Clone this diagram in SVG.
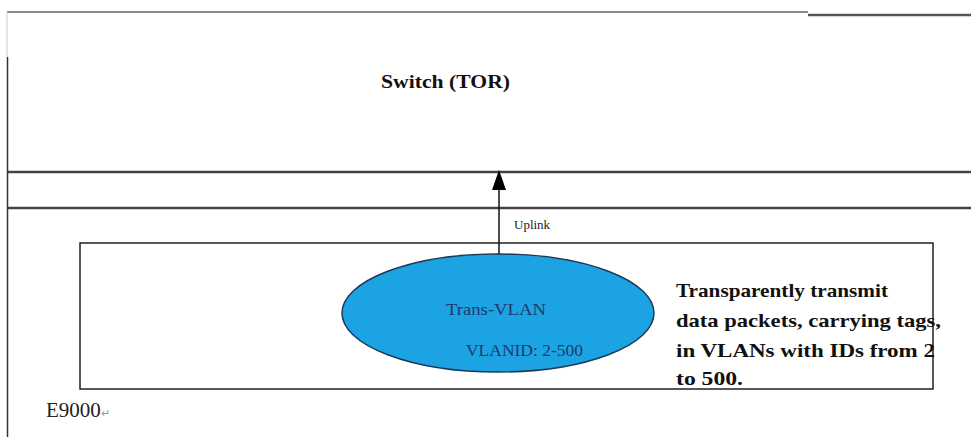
<svg xmlns="http://www.w3.org/2000/svg" width="971" height="437" viewBox="0 0 971 437">
<style>
.frame{fill:none;stroke:#222;stroke-width:1.5}
.thick{fill:none;stroke:#444;stroke-width:2.5}
text{font-family:'Liberation Serif',serif}
.note{font-weight:bold;font-size:19px;fill:#111}
</style>
<defs>
<marker id="arrow" viewBox="0 0 20 14" refX="19" refY="7" markerWidth="20" markerHeight="14" markerUnits="userSpaceOnUse" orient="auto">
<path d="M0,0 L20,7 L0,14 z" fill="#000"/>
</marker>
</defs>
<rect width="971" height="437" fill="#fff"/>
<g id="switch-tor">
<line x1="7" y1="12" x2="808" y2="12" stroke="#111" stroke-width="1.2"/>
<line x1="808" y1="15" x2="971" y2="15" stroke="#555" stroke-width="2.5"/>
<line x1="7" y1="12" x2="7" y2="57" stroke="#ccc" stroke-width="1"/>
<line x1="7.5" y1="57" x2="7.5" y2="172" stroke="#333" stroke-width="1.5"/>
<line x1="7" y1="172" x2="971" y2="172" class="thick"/>
<text x="381" y="88" font-family="'Liberation Serif', serif" font-size="18" font-weight="bold" fill="#111" textLength="129" lengthAdjust="spacingAndGlyphs">Switch (TOR)</text>
</g>
<g id="e9000">
<line x1="7.5" y1="172" x2="7.5" y2="437" stroke="#333" stroke-width="1.5"/>
<line x1="7" y1="208" x2="971" y2="208" class="thick"/>
<text x="46" y="417" font-family="'Liberation Serif', serif" font-size="21" fill="#222">E9000<tspan font-size="11" fill="#999">↵</tspan></text>
</g>
<g id="inner-box">
<rect x="80" y="243" width="853" height="146" class="frame"/>
</g>
<g id="trans-vlan">
<ellipse cx="498" cy="313" rx="156" ry="59" fill="#1CA3E3" stroke="#1a3a5a" stroke-width="1.5"/>
<text x="446" y="315" font-family="'Liberation Serif', serif" font-size="17" fill="#1F3A6E" textLength="100" lengthAdjust="spacingAndGlyphs">Trans-VLAN</text>
<text x="466" y="356" font-family="'Liberation Serif', serif" font-size="16" fill="#1F3A6E" textLength="117" lengthAdjust="spacingAndGlyphs">VLANID: 2-500</text>
</g>
<g id="note" font-family="'Liberation Serif', serif">
<text class="note" x="676" y="297" textLength="212" lengthAdjust="spacingAndGlyphs">Transparently transmit</text>
<text class="note" x="676" y="327" textLength="265" lengthAdjust="spacingAndGlyphs">data packets, carrying tags,</text>
<text class="note" x="676" y="357" textLength="259" lengthAdjust="spacingAndGlyphs">in VLANs with IDs from 2</text>
<text class="note" x="676" y="385" textLength="67" lengthAdjust="spacingAndGlyphs">to 500.</text>
</g>
<g id="connectors">
<line x1="499" y1="254" x2="499" y2="171" stroke="#111" stroke-width="1.5" marker-end="url(#arrow)"/>
<text x="514" y="229" font-family="'Liberation Serif', serif" font-size="13" fill="#222">Uplink</text>
</g>
</svg>
